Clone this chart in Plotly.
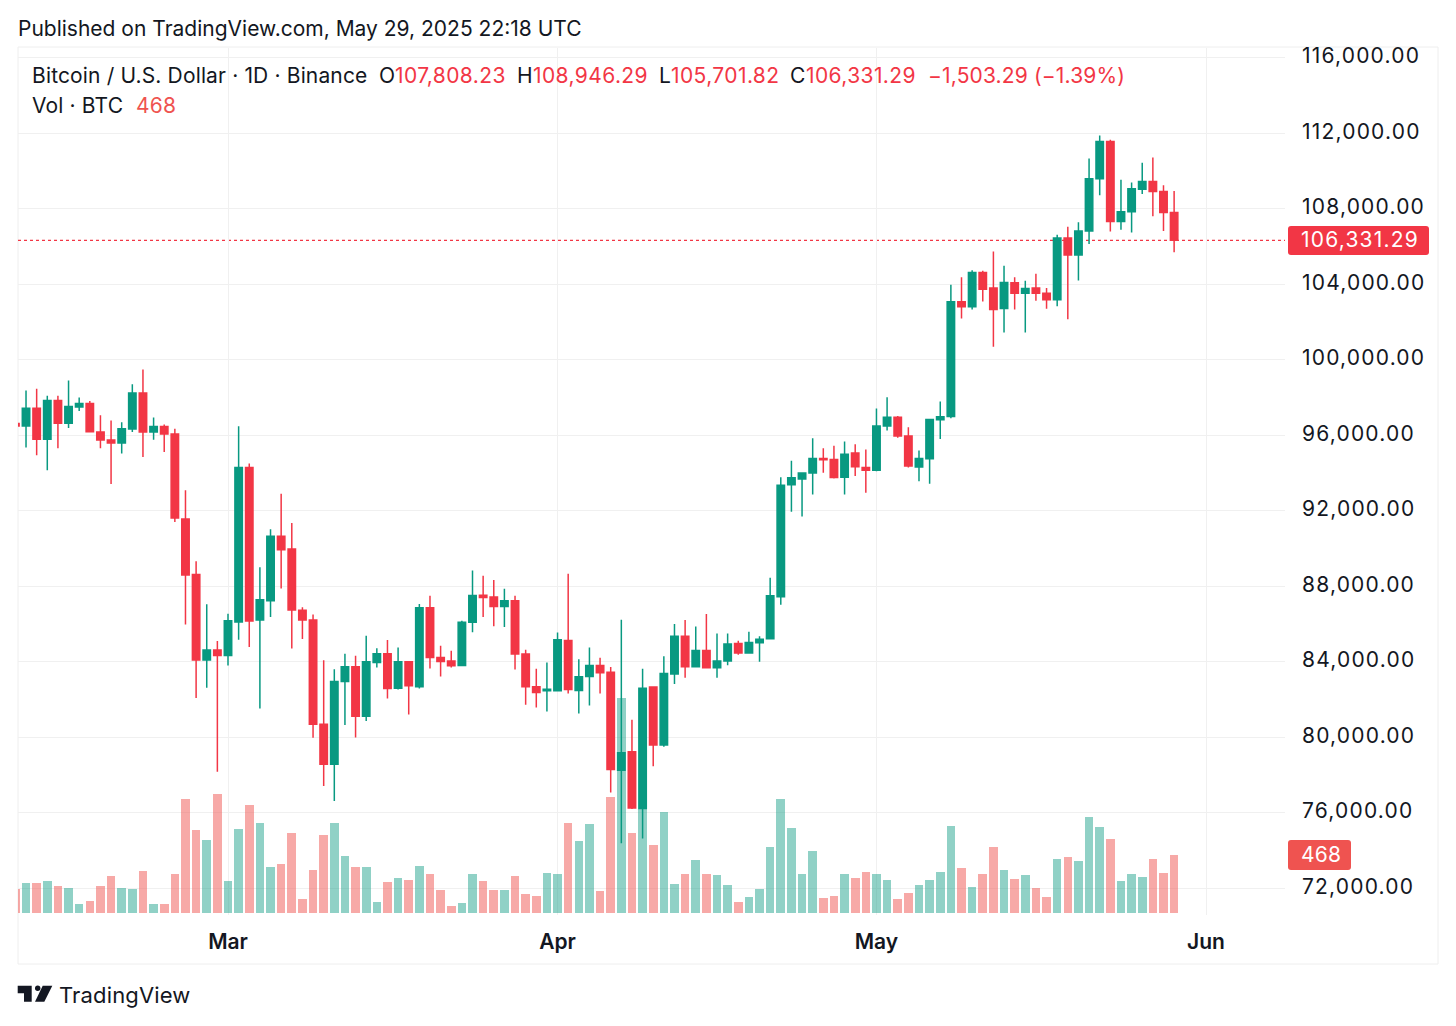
import pandas as pd
import plotly.graph_objects as go

dates = pd.date_range("2025-02-09", "2025-05-29", freq="D")

opens = [
    96620, 96490, 97430, 95790, 97850, 96640, 97500, 97680, 96180, 95750, 95590, 96340, 98240, 96180, 96460, 96070,
    91570, 88620, 84100, 84630,
    84330, 86110, 94290, 86220, 87240, 90650, 89980, 86730, 86220, 80690, 78570, 82950, 83740, 81120, 83960, 84420,
    82600, 84000, 82680, 86860, 84230, 84040, 83810, 86100, 87530, 87430, 86930, 87230, 84410, 82680, 82460,
    82460, 85130, 82480, 83220, 83810, 83440, 78260, 79230, 76230, 82660, 79590, 83350, 85360, 83740, 84600, 83680,
    84040, 84970, 84460, 85010, 85220, 87440, 93380, 93680, 94000, 94770, 94720, 93780, 95060, 94300,
    94150, 96490, 96950, 95960, 94320, 94760, 96820, 97000, 103070, 102810, 104630, 103810, 102720, 104080, 103530,
    103810, 103530, 103180, 106450, 105550, 106820, 109590, 111570, 107330, 107840, 109040, 109450, 108920, 107808.23,
]
highs = [
    96620, 98380, 98470, 98100, 98100, 98910, 98000, 97820, 97060, 96780, 96690, 98700, 99480, 96940, 96570, 96350,
    93090, 89330, 87050, 85100,
    86550, 96480, 94500, 89010, 91020, 92910, 91360, 86890, 86500, 84080, 83600, 84420, 84320, 85380, 84720, 85150,
    84760, 84040, 87060, 87500, 84850, 84580, 86170, 88840, 88560, 88340, 87870, 87500, 84640, 83630, 83960,
    85550, 88660, 84140, 84760, 84210, 83720, 86230, 80930, 83630, 82710, 84300, 86000, 86210, 85870, 86530, 85500,
    85500, 85110, 85590, 85360, 88450, 93780, 94650, 94030, 95850, 95320, 95440, 95670, 95530, 95250,
    97420, 98020, 97020, 96430, 95200, 96860, 97790, 103970, 104380, 104750, 104720, 105740, 104980, 104380, 104190,
    104560, 103800, 106620, 107050, 107290, 110670, 111890, 111660, 109540, 109400, 110440, 110720, 109250, 108946.29,
]
lows = [
    96490, 95350, 94940, 94150, 95310, 96390, 97290, 96180, 95310, 93420, 95030, 96180, 94850, 95770, 95120, 91410,
    85970, 82080, 82630, 78180,
    83810, 85170, 84790, 81520, 86380, 87890, 84700, 85210, 79970, 77420, 76630, 80650, 79990, 80870, 83700, 82060,
    82530, 81210, 82590, 83650, 83220, 83700, 83790, 85570, 86370, 85890, 85850, 83590, 81720, 81580, 81370,
    82450, 82320, 81260, 81690, 82320, 77080, 74390, 76200, 74640, 78470, 79500, 82830, 83150, 83740, 83650, 83150,
    83820, 84370, 84420, 84000, 85180, 87020, 91950, 91700, 92870, 94010, 93710, 92870, 93840, 92950,
    94100, 96260, 95870, 94300, 93570, 93430, 95810, 96910, 102190, 102670, 103090, 100690, 101450, 102670, 101450,
    103130, 102700, 102840, 102150, 104200, 106130, 108720, 106800, 106890, 106750, 108780, 107610, 106830, 105701.82,
]
closes = [
    96490, 97430, 95790, 97850, 96640, 97520, 97680, 96190, 95750, 95590, 96350, 98240, 96180, 96460, 96070, 91620,
    88600, 84100, 84630, 84330,
    86180, 94290, 86160, 87290, 90650, 89930, 86750, 86220, 80690, 78570, 82950, 83740, 81120, 84000, 84420, 82590,
    84000, 82730, 86860, 84230, 84020, 83790, 86100, 87510, 87410, 86930, 87230, 84410, 82680, 82380, 82550,
    85170, 82530, 83210, 83810, 83420, 78300, 79180, 76250, 82600, 79590, 83380, 85360, 83740, 84600, 83680, 84040,
    84940, 84460, 85020, 85200, 87500, 93360, 93750, 94000, 94770, 94700, 93770, 95000, 94330, 94150,
    96490, 96950, 95960, 94370, 94770, 96840, 96980, 103070, 102810, 104630, 103740, 102670, 104100, 103530, 103780,
    103530, 103180, 106450, 105550, 106820, 109590, 111570, 107330, 107840, 109060, 109450, 108920, 107808.23, 106331.29,
]
volumes = [
    192, 240, 240, 262, 219, 200, 70, 97, 219, 300, 200, 192, 340, 73, 73, 319, 923, 672, 589, 964,
    262, 678, 880, 734, 375, 397, 648, 111, 348, 629, 729, 462, 370, 370, 89, 248, 284, 267, 378, 319, 184, 54, 81,
    319, 262, 184, 184, 300, 154, 138, 327,
    319, 734, 583, 721, 176, 937, 1742, 648, 840, 548, 821, 235, 313, 429, 313, 305, 224, 89, 132, 192, 535, 923, 686,
    313, 500, 119, 135, 313, 284, 332,
    319, 267, 111, 162, 224, 267, 332, 705, 362, 211, 313, 535, 348, 275, 305, 203, 132, 435, 454, 421, 778, 694,
    599, 257, 313, 292, 435, 327, 468,
]

price_ticks = list(range(72000, 116001, 4000))
month_ticks = ["2025-03-01", "2025-04-01", "2025-05-01", "2025-06-01"]
month_labels = ["Mar", "Apr", "May", "Jun"]
last_price = 106331.29
last_volume = 468

GREEN = "#089981"
RED = "#F23645"
GRID = "#F0F0F0"
FONT = "Inter"
DAY_MS = 86400000

# plot area in page pixels
L, R, T, B = 18, 1285, 48, 915


def px(x):
    return (x - L) / (R - L)


def py(y):
    return (B - y) / (B - T)


def path(points):
    return "M" + " L".join(f"{px(x)},{py(y)}" for x, y in points) + " Z"


def tag(x0, y0, x1, y1, r=3):
    return (
        f"M{px(x0 + r)},{py(y0)} L{px(x1 - r)},{py(y0)} Q{px(x1)},{py(y0)} {px(x1)},{py(y0 + r)} "
        f"L{px(x1)},{py(y1 - r)} Q{px(x1)},{py(y1)} {px(x1 - r)},{py(y1)} "
        f"L{px(x0 + r)},{py(y1)} Q{px(x0)},{py(y1)} {px(x0)},{py(y1 - r)} "
        f"L{px(x0)},{py(y0 + r)} Q{px(x0)},{py(y0)} {px(x0 + r)},{py(y0)} Z"
    )


fig = go.Figure()

vol_colors = [
    "rgba(8,153,129,0.45)" if c >= o else "rgba(239,83,80,0.5)" for o, c in zip(opens, closes)
]
fig.add_trace(go.Bar(
    x=dates, y=volumes, marker=dict(color=vol_colors, line_width=0),
    width=0.81 * DAY_MS, yaxis="y", showlegend=False,
))
fig.add_trace(go.Candlestick(
    x=dates, open=opens, high=highs, low=lows, close=closes,
    increasing=dict(line=dict(color=GREEN, width=1.5), fillcolor=GREEN),
    decreasing=dict(line=dict(color=RED, width=1.5), fillcolor=RED),
    whiskerwidth=0, yaxis="y2", showlegend=False,
))

shapes = [
    # outer frame
    dict(type="rect", xref="paper", yref="paper", x0=px(18), x1=px(1438), y0=py(964), y1=py(47),
         line=dict(color="#EEEEEE", width=1), layer="below"),
    # last price line
    dict(type="line", xref="paper", yref="y2", x0=0, x1=1, y0=last_price, y1=last_price,
         line=dict(color=RED, width=1.3, dash="dot"), layer="below"),
    # value tags on the scale
    dict(type="path", xref="paper", yref="paper", path=tag(1288, 226, 1429, 255), fillcolor=RED, line_width=0),
    dict(type="path", xref="paper", yref="paper", path=tag(1288, 840, 1351, 870), fillcolor="#EF5350", line_width=0),
    # TradingView logo
    dict(type="path", xref="paper", yref="paper", fillcolor="#131722", line_width=0,
         path=path([(17.7, 985.7), (31.7, 985.7), (31.7, 1001.7), (24, 1001.7), (24, 993.3), (17.7, 993.3)])),
    dict(type="circle", xref="paper", yref="paper", fillcolor="#131722", line_width=0,
         x0=px(35), x1=px(40.4), y0=py(991), y1=py(985.6)),
    dict(type="path", xref="paper", yref="paper", fillcolor="#131722", line_width=0,
         path=path([(42.7, 985.7), (52.3, 985.7), (44.3, 1001.7), (35, 1001.7)])),
]

# text chunks: x, y, text, colour, size
texts = [
    (17, 28, "Published on TradingView.com, May 29, 2025 22:18 UTC", "#131722", 21),
    (31, 76, "Bitcoin / U.S. Dollar · 1D · Binance", "#131722", 21),
    (378, 76, "O", "#131722", 21),
    (394, 76, "107,808.23", RED, 21),
    (516, 76, "H", "#131722", 21),
    (532, 76, "108,946.29", RED, 21),
    (658, 76, "L", "#131722", 21),
    (670, 76, "105,701.82", RED, 21),
    (789, 76, "C", "#131722", 21),
    (805, 76, "106,331.29", RED, 21),
    (927, 76, "−1,503.29 (−1.39%)", RED, 21),
    (31, 106, "Vol · BTC", "#131722", 21),
    (135, 106, str(last_volume), "#EF5350", 21),
    (1300, 239, f"{last_price:,.2f}", "white", 21),
    (1300, 854, str(last_volume), "white", 21),
    (58, 995, "TradingView", "#131722", 22),
]
annotations = [
    dict(xref="paper", yref="paper", x=px(x), y=py(y), text=text, showarrow=False,
         xanchor="left", yanchor="middle", align="left", borderpad=0,
         font=dict(family=FONT, color=color, size=size))
    for x, y, text, color, size in texts
]

fig.update_layout(
    width=1456, height=1026,
    margin=dict(l=L, r=1456 - R, t=T, b=1026 - B, autoexpand=False),
    paper_bgcolor="white", plot_bgcolor="white",
    font=dict(family=FONT, color="#131722", size=21),
    showlegend=False, bargap=0, boxgap=0.3, boxgroupgap=0,
    shapes=shapes, annotations=annotations,
    xaxis=dict(
        type="date", range=["2025-02-09 05:53", "2025-06-08 10:20"],
        rangeslider=dict(visible=False),
        tickmode="array", tickvals=month_ticks, ticktext=month_labels,
        tickfont=dict(family=FONT, size=21, weight=600, color="#131722"),
        ticklabelstandoff=12, ticklen=0, showgrid=True, gridcolor=GRID, gridwidth=1.2,
        showline=False, zeroline=False,
    ),
    yaxis=dict(
        range=[-16, 7015], showticklabels=False, showgrid=False, zeroline=False, showline=False, ticklen=0,
    ),
    yaxis2=dict(
        overlaying="y", side="right", range=[70585, 116520],
        tickmode="array", tickvals=price_ticks, tickformat=",.2f",
        tickfont=dict(family=FONT, size=21, color="#131722"),
        ticklabelstandoff=16, ticklabelshift=-2, ticklen=0, showgrid=True, gridcolor=GRID, gridwidth=1.2,
        showline=False, zeroline=False,
    ),
)

# the price scale in the reference is tracked wider than Inter sets it
css = (
    ".y2tick text{letter-spacing:1.2px}"
    ".annotation text{letter-spacing:.15px}"
    ".annotation[data-index='0'] text{letter-spacing:0}"
    + "".join(f".annotation[data-index='{i}'] text{{letter-spacing:.4px}}" for i in (3, 5, 7, 9))
    + ".annotation[data-index='13'] text{letter-spacing:1.2px}"
)
post_script = (
    "document.body.style.margin='0';"
    f"var s=document.createElement('style');s.textContent=\"{css}\";document.head.appendChild(s);"
)
fig.write_html("out.html", config={"displayModeBar": False}, post_script=post_script)
